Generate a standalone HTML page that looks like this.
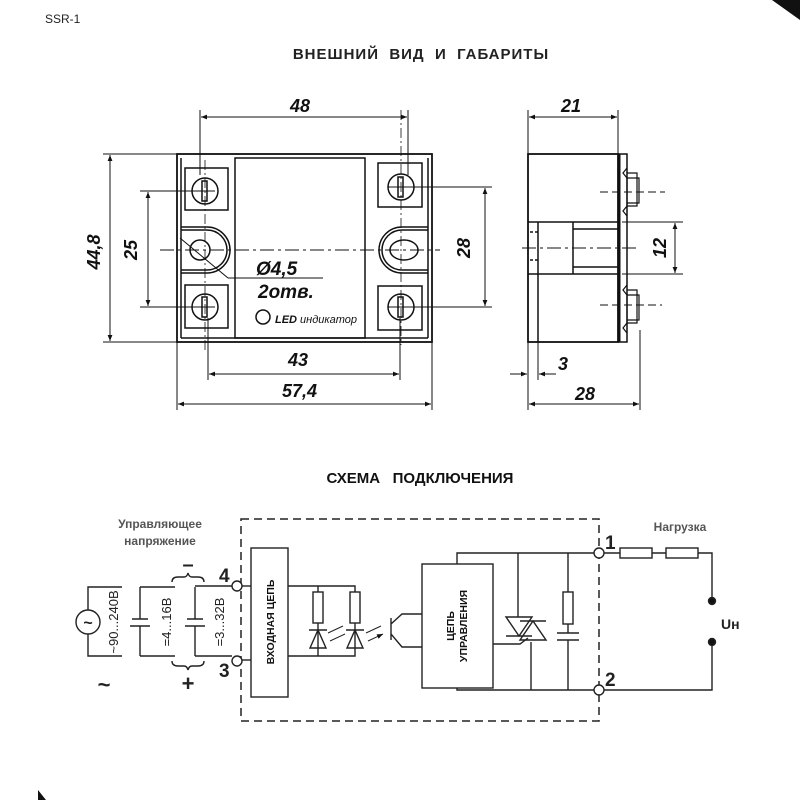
<!DOCTYPE html>
<html><head><meta charset="utf-8"><style>
html,body{margin:0;padding:0;background:#fff}
svg{display:block}
text{font-family:"Liberation Sans",sans-serif}
</style></head><body>
<svg width="800" height="800" viewBox="0 0 800 800" xmlns="http://www.w3.org/2000/svg">
<defs>
<marker id="a" viewBox="0 0 10 10" refX="10" refY="5" markerWidth="9" markerHeight="6" orient="auto-start-reverse"><path d="M0,1 L10,5 L0,9 z" fill="#111"/></marker>
</defs>
<path d="M772,0 L800,0 L800,20 Z" fill="#111"/>
<path d="M38,790 L46,800 L38,800 Z" fill="#111"/>
<text x="45" y="23" font-size="12" fill="#222">SSR-1</text>
<text x="421" y="59" font-size="15" font-weight="bold" text-anchor="middle" fill="#222" letter-spacing="1" xml:space="preserve">ВНЕШНИЙ  ВИД  И  ГАБАРИТЫ</text>
<text x="420" y="483" font-size="15" font-weight="bold" text-anchor="middle" fill="#111" xml:space="preserve">СХЕМА   ПОДКЛЮЧЕНИЯ</text>

<g stroke="#111" fill="none" stroke-width="1.5">
<!-- front view -->
<rect x="177" y="154" width="255" height="188" stroke-width="1.8"/>
<line x1="181" y1="338" x2="428" y2="338"/>
<line x1="181" y1="158" x2="181" y2="338"/><line x1="428" y1="158" x2="428" y2="338"/>
<rect x="235" y="158" width="130" height="180"/>
<rect x="185" y="168" width="43" height="42"/>
<rect x="185" y="285" width="43" height="43"/>
<rect x="378" y="163" width="44" height="44"/>
<rect x="378" y="286" width="44" height="44"/>
<circle cx="205" cy="191" r="13"/><rect x="202" y="181" width="5" height="20"/>
<circle cx="205" cy="307" r="13"/><rect x="202" y="297" width="5" height="20"/>
<circle cx="401" cy="187" r="13"/><rect x="398" y="177" width="5" height="20"/>
<circle cx="401" cy="307" r="13"/><rect x="398" y="297" width="5" height="20"/>
<path d="M181,227 H207 A23,23 0 0 1 207,273 H181"/>
<path d="M181,230 H207 A20,20 0 0 1 207,270 H181"/>
<circle cx="200" cy="250" r="10"/>
<path d="M428,227 H402 A23,23 0 0 0 402,273 H428"/>
<path d="M428,230 H402 A20,20 0 0 0 402,270 H428"/>
<ellipse cx="404" cy="250" rx="14" ry="10"/>
<line x1="160" y1="250" x2="440" y2="250" stroke-dasharray="14,4,3,4" stroke-width="0.9"/>
<line x1="180" y1="238" x2="228" y2="278" stroke-width="1"/>
<line x1="228" y1="278" x2="323" y2="278" stroke-width="1"/>
<circle cx="263" cy="317" r="7"/>
<!-- dims front -->
<g stroke-width="1">
<line x1="200" y1="110" x2="200" y2="175"/><line x1="408" y1="110" x2="408" y2="175"/>
<line x1="201" y1="117" x2="407" y2="117" marker-start="url(#a)" marker-end="url(#a)"/>
<line x1="103" y1="154" x2="177" y2="154"/><line x1="103" y1="342" x2="177" y2="342"/>
<line x1="110" y1="155" x2="110" y2="341" marker-start="url(#a)" marker-end="url(#a)"/>
<line x1="140" y1="191" x2="215" y2="191"/><line x1="140" y1="307" x2="215" y2="307"/>
<line x1="148" y1="192" x2="148" y2="306" marker-start="url(#a)" marker-end="url(#a)"/>
<line x1="388" y1="187" x2="492" y2="187"/><line x1="388" y1="307" x2="492" y2="307"/>
<line x1="485" y1="188" x2="485" y2="306" marker-start="url(#a)" marker-end="url(#a)"/>
<line x1="208" y1="318" x2="208" y2="380"/><line x1="400" y1="318" x2="400" y2="380"/>
<line x1="209" y1="374" x2="399" y2="374" marker-start="url(#a)" marker-end="url(#a)"/>
<line x1="177" y1="342" x2="177" y2="410"/><line x1="432" y1="342" x2="432" y2="410"/>
<line x1="178" y1="404" x2="431" y2="404" marker-start="url(#a)" marker-end="url(#a)"/>
</g>
<line x1="205" y1="160" x2="205" y2="350" stroke-dasharray="10,3,2,3" stroke-width="0.8"/>
<line x1="401" y1="110" x2="401" y2="345" stroke-dasharray="10,3,2,3" stroke-width="0.8"/>

<!-- side view -->
<rect x="528" y="154" width="90" height="188" stroke-width="1.8"/>
<line x1="619" y1="154" x2="619" y2="342" stroke-width="3"/>
<rect x="619" y="154" width="8" height="188"/>
<line x1="528" y1="222" x2="619" y2="222"/><line x1="528" y1="274" x2="619" y2="274"/>
<line x1="538" y1="222" x2="538" y2="342"/>
<line x1="573" y1="222" x2="573" y2="274"/>
<line x1="573" y1="229" x2="619" y2="229"/><line x1="573" y1="267" x2="619" y2="267"/>
<line x1="530" y1="232" x2="538" y2="232" stroke-dasharray="3,2"/><line x1="530" y1="260" x2="538" y2="260" stroke-dasharray="3,2"/>
<line x1="522" y1="248" x2="640" y2="248" stroke-dasharray="14,4,3,4" stroke-width="0.9"/>
<path d="M627,168 l-4,5 l4,5 v28 l-4,5 l4,5 M627,173 h10 v33 h-10 M627,178 h12 v25 h-12" stroke-width="1.2"/>
<path d="M627,285 l-4,5 l4,5 v28 l-4,5 l4,5 M627,290 h10 v33 h-10 M627,295 h12 v25 h-12" stroke-width="1.2"/>
<line x1="600" y1="192" x2="665" y2="192" stroke-dasharray="8,4" stroke-width="1"/>
<line x1="600" y1="305" x2="662" y2="305" stroke-dasharray="8,4" stroke-width="1"/>
<g stroke-width="1">
<line x1="528" y1="110" x2="528" y2="154"/><line x1="618" y1="110" x2="618" y2="154"/>
<line x1="529" y1="117" x2="617" y2="117" marker-start="url(#a)" marker-end="url(#a)"/>
<line x1="622" y1="222" x2="683" y2="222"/><line x1="622" y1="274" x2="683" y2="274"/>
<line x1="675" y1="223" x2="675" y2="273" marker-start="url(#a)" marker-end="url(#a)"/>
<line x1="528" y1="342" x2="528" y2="410"/><line x1="538" y1="342" x2="538" y2="380"/>
<line x1="640" y1="330" x2="640" y2="410"/>
<line x1="510" y1="374" x2="527" y2="374" marker-end="url(#a)"/>
<line x1="556" y1="374" x2="539" y2="374" marker-end="url(#a)"/>
<line x1="529" y1="404" x2="639" y2="404" marker-start="url(#a)" marker-end="url(#a)"/>
</g>
</g>
<g font-weight="bold" font-style="italic" font-size="18" fill="#111">
<text x="290" y="112">48</text>
<text x="100" y="252" text-anchor="middle" transform="rotate(-90 100 252)">44,8</text>
<text x="137" y="250" text-anchor="middle" transform="rotate(-90 137 250)">25</text>
<text x="470" y="248" text-anchor="middle" transform="rotate(-90 470 248)">28</text>
<text x="256" y="275" font-size="19">Ø4,5</text>
<text x="258" y="298" font-size="19">2отв.</text>
<text x="288" y="366">43</text>
<text x="282" y="397">57,4</text>
<text x="561" y="112">21</text>
<text x="666" y="248" text-anchor="middle" transform="rotate(-90 666 248)">12</text>
<text x="558" y="370">3</text>
<text x="575" y="400">28</text>
</g>
<text x="275" y="323" font-size="11" font-style="italic" fill="#111"><tspan font-weight="bold">LED</tspan> индикатор</text>

<!-- schematic -->
<g stroke="#222" fill="none" stroke-width="1.4">
<rect x="241" y="519" width="358" height="202" stroke-dasharray="8,5" stroke-width="1.5"/>
<rect x="251" y="548" width="37" height="149"/>
<line x1="195" y1="586" x2="232" y2="586"/><line x1="242" y1="586" x2="251" y2="586"/>
<line x1="195" y1="656" x2="232" y2="656"/><line x1="242" y1="660" x2="251" y2="660"/>
<circle cx="237" cy="586" r="5" fill="#fff"/><circle cx="237" cy="661" r="5" fill="#fff"/>
<path d="M288,586 H355 V592 M318,586 V592 M288,656 H355 V648 M318,656 V648"/>
<rect x="313" y="592" width="10" height="31"/><rect x="350" y="592" width="10" height="31"/>
<path d="M318,623 V648 M355,623 V648"/>
<path d="M310,648 L318,630 L326,648 Z M309,630 H327"/>
<path d="M347,648 L355,630 L363,648 Z M346,630 H364"/>
<path d="M328,633 L343,626 M330,641 L345,634 M366,633 L381,626 M368,641 L383,634" stroke-width="1" marker-end="url(#a)"/>
<path d="M391,618 V640 M391,624 L402,614 H422 M391,634 L402,647 H422"/>
<rect x="422" y="564" width="71" height="124"/>
<path d="M457,564 V553 H596 M457,688 V690 H596"/>
<path d="M518,553 V617 M531,642 V690 M568,553 V592 M568,624 V633 M568,640 V690"/>
<path d="M506,617 H532 L519,636 Z M520,640 H546 L533,621 Z M506,636 H532 M520,621 H546"/>
<path d="M493,644 H520 L528,638"/>
<rect x="563" y="592" width="10" height="32"/>
<path d="M557,633 H579 M557,640 H579"/>
<circle cx="599" cy="553" r="5" fill="#fff"/><circle cx="599" cy="690" r="5" fill="#fff"/>
<path d="M604,553 H620 M652,553 H666 M698,553 H712 V601 M712,642 V690 H604"/>
<rect x="620" y="548" width="32" height="10"/><rect x="666" y="548" width="32" height="10"/>
<circle cx="712" cy="601" r="3.5" fill="#111"/><circle cx="712" cy="642" r="3.5" fill="#111"/>
<circle cx="88" cy="622" r="12"/>
<path d="M88,610 V587 H122 M88,634 V656 H122"/>
<path d="M140,587 H175 M140,656 H175 M140,587 V619 M140,626 V656 M132,619 H148 M130,626 H150"/>
<path d="M195,587 V619 M195,626 V656 M187,619 H203 M185,626 H205"/>
<path d="M172,582 q0,-5 6,-5 h6 q3,0 4,-4 q1,4 4,4 h6 q6,0 6,5"/>
<path d="M172,661 q0,5 6,5 h6 q3,0 4,4 q1,-4 4,-4 h6 q6,0 6,-5"/>
</g>
<text x="88" y="628" font-size="16" font-weight="bold" text-anchor="middle" fill="#222">~</text>
<text x="104" y="692" font-size="22" font-weight="bold" text-anchor="middle" fill="#222">~</text>
<text x="188" y="571" font-size="20" font-weight="bold" text-anchor="middle" fill="#222">–</text>
<text x="188" y="691" font-size="22" font-weight="bold" text-anchor="middle" fill="#222">+</text>
<g font-size="13" fill="#222">
<text x="118" y="622" text-anchor="middle" transform="rotate(-90 118 622)">~90...240В</text>
<text x="171" y="622" text-anchor="middle" transform="rotate(-90 171 622)">=4...16В</text>
<text x="224" y="622" text-anchor="middle" transform="rotate(-90 224 622)">=3...32В</text>
</g>
<g font-size="12" font-weight="bold" fill="#555" text-anchor="middle">
<text x="160" y="528">Управляющее</text>
<text x="160" y="545">напряжение</text>
<text x="680" y="531">Нагрузка</text>
</g>
<text x="274" y="622" font-size="10.5" font-weight="bold" text-anchor="middle" fill="#111" transform="rotate(-90 274 622)">ВХОДНАЯ ЦЕПЬ</text>
<text x="454" y="626" font-size="10.5" font-weight="bold" text-anchor="middle" fill="#111" transform="rotate(-90 454 626)">ЦЕПЬ</text>
<text x="467" y="626" font-size="10.5" font-weight="bold" text-anchor="middle" fill="#111" transform="rotate(-90 467 626)">УПРАВЛЕНИЯ</text>
<g font-size="19" font-weight="bold" fill="#222">
<text x="219" y="582">4</text><text x="219" y="677">3</text>
<text x="605" y="549">1</text><text x="605" y="686">2</text>
<text x="721" y="629" font-size="14">Uн</text>
</g>
</svg>
</body></html>
